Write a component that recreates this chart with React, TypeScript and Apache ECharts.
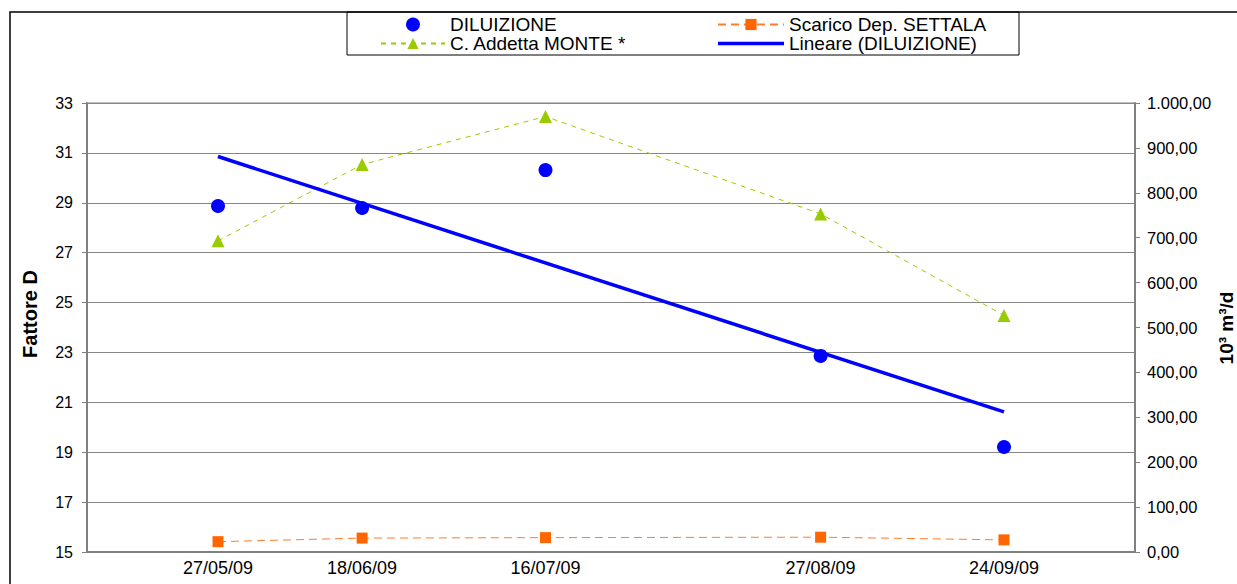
import React, { useEffect, useRef } from "react";
import * as echarts from "echarts";

// Sampling dates (dd/mm/yy) and measured values
const DATES = ["27/05/09", "18/06/09", "16/07/09", "27/08/09", "24/09/09"];
const DILUIZIONE = [28.87, 28.79, 30.31, 22.86, 19.21];
const SCARICO_SETTALA = [23, 31, 32, 33, 27];
const ADDETTA_MONTE = [693, 863, 970, 753, 527];

// Axis extents and tick labels
const X_RANGE = ["07/05/09", "14/10/09"];
const LEFT_TICKS = [15, 17, 19, 21, 23, 25, 27, 29, 31, 33];
const RIGHT_RANGE = [0, 1000];
const RIGHT_STEP = 100;

const FONT = "'Liberation Sans', Arial, sans-serif";

const toDay = (s: string) => {
  const [d, m, y] = s.split("/").map(Number);
  return Date.UTC(2000 + y, m - 1, d) / 86400000;
};

const fromDay = (n: number) => {
  const dt = new Date(Math.round(n) * 86400000);
  const p = (v: number) => String(v).padStart(2, "0");
  return `${p(dt.getUTCDate())}/${p(dt.getUTCMonth() + 1)}/${p(dt.getUTCFullYear() % 100)}`;
};

// Italian number format: 1.000,00
const itNum = (v: number) => {
  const [i, f] = v.toFixed(2).split(".");
  return i.replace(/\B(?=(\d{3})+(?!\d))/g, ".") + "," + f;
};

// Least-squares linear trend of DILUIZIONE over time
const linearTrend = (xs: number[], ys: number[]) => {
  const n = xs.length;
  const mx = xs.reduce((a, b) => a + b, 0) / n;
  const my = ys.reduce((a, b) => a + b, 0) / n;
  let sxy = 0;
  let sxx = 0;
  xs.forEach((x, i) => {
    sxy += (x - mx) * (ys[i] - my);
    sxx += (x - mx) * (x - mx);
  });
  const slope = sxy / sxx;
  return (x: number) => my + slope * (x - mx);
};

export default function App() {
  const ref = useRef<HTMLDivElement>(null);

  useEffect(() => {
    if (!ref.current) return;
    const chart = echarts.init(ref.current, undefined, { renderer: "svg" });

    const days = DATES.map(toDay);
    const trend = linearTrend(days, DILUIZIONE);
    const first = days[0];
    const last = days[days.length - 1];

    const pairs = (vals: number[]) => days.map((d, i) => [d, vals[i]]);

    const axisGray = "#808080";

    chart.setOption({
      animation: false,
      backgroundColor: "#ffffff",
      textStyle: { fontFamily: FONT },
      grid: {
        left: 87,
        right: 102,
        top: 103,
        bottom: 32,
        show: true,
        borderColor: axisGray,
        borderWidth: 1,
      },
      legend: [
        {
          orient: "vertical",
          left: 380,
          top: 15,
          padding: 0,
          itemGap: 0,
          itemWidth: 64,
          itemHeight: 14,
          textStyle: { fontFamily: FONT, fontSize: 19, lineHeight: 19, color: "#000" },
          data: ["DILUIZIONE", "C. Addetta MONTE *"],
        },
        {
          orient: "vertical",
          left: 717,
          top: 15,
          padding: 0,
          itemGap: 0,
          itemWidth: 66,
          itemHeight: 14,
          textStyle: { fontFamily: FONT, fontSize: 19, lineHeight: 19, color: "#000" },
          data: [
            "Scarico Dep. SETTALA",
            { name: "Lineare (DILUIZIONE)", icon: "path://M0,0L66,0L66,3.5L0,3.5Z" },
          ],
        },
      ],
      xAxis: {
        type: "value",
        min: toDay(X_RANGE[0]),
        max: toDay(X_RANGE[1]),
        axisLine: { onZero: false, lineStyle: { color: axisGray, width: 2 } },
        axisTick: { show: false },
        splitLine: { show: false },
        axisLabel: {
          customValues: days,
          formatter: (v: number) => fromDay(v),
          fontFamily: FONT,
          fontSize: 18,
          color: "#000",
          margin: 7,
        },
      },
      yAxis: [
        {
          type: "value",
          position: "left",
          min: LEFT_TICKS[0],
          max: LEFT_TICKS[LEFT_TICKS.length - 1],
          axisLine: { show: true, lineStyle: { color: axisGray, width: 2 } },
          axisTick: {
            show: true,
            length: 5,
            customValues: LEFT_TICKS,
            lineStyle: { color: axisGray },
          },
          splitLine: { show: true, lineStyle: { color: "#868686", width: 1 } },
          axisLabel: {
            customValues: LEFT_TICKS,
            fontFamily: FONT,
            fontSize: 16,
            color: "#000",
            margin: 14,
          },
        },
        {
          type: "value",
          position: "right",
          min: RIGHT_RANGE[0],
          max: RIGHT_RANGE[1],
          interval: RIGHT_STEP,
          axisLine: { show: true, lineStyle: { color: axisGray, width: 2 } },
          axisTick: { show: true, length: 5, lineStyle: { color: axisGray } },
          splitLine: { show: false },
          axisLabel: {
            formatter: (v: number) => itNum(v),
            fontFamily: FONT,
            fontSize: 16.5,
            color: "#000",
            margin: 12,
          },
        },
      ],
      graphic: [
        {
          type: "rect",
          silent: true,
          shape: { x: 10, y: 12, width: 1400, height: 800 },
          style: { fill: "none", stroke: "#000", lineWidth: 1.5 },
        },
        {
          type: "rect",
          silent: true,
          shape: { x: 347, y: 12, width: 672, height: 43 },
          style: { fill: "none", stroke: "#000", lineWidth: 1 },
        },
        {
          type: "text",
          x: 30,
          y: 314,
          rotation: Math.PI / 2,
          style: {
            text: "Fattore D",
            fontFamily: FONT,
            fontSize: 20,
            fontWeight: "bold",
            fill: "#000",
            align: "center",
            verticalAlign: "middle",
          },
        },
        {
          type: "text",
          x: 1226,
          y: 328,
          rotation: Math.PI / 2,
          style: {
            text: "10³ m³/d",
            fontFamily: FONT,
            fontSize: 19,
            fontWeight: "bold",
            fill: "#000",
            align: "center",
            verticalAlign: "middle",
          },
        },
      ],
      series: [
        {
          name: "DILUIZIONE",
          type: "scatter",
          yAxisIndex: 0,
          symbol: "circle",
          symbolSize: 14,
          itemStyle: { color: "#0000FF", opacity: 1 },
          data: pairs(DILUIZIONE),
          z: 3,
        },
        {
          name: "Scarico Dep. SETTALA",
          type: "line",
          yAxisIndex: 1,
          symbol: "rect",
          symbolSize: 11,
          itemStyle: { color: "#FF6600" },
          lineStyle: { color: "#FF6600", width: 1, type: [8, 5], opacity: 0.85 },
          data: pairs(SCARICO_SETTALA),
          z: 2,
        },
        {
          name: "C. Addetta MONTE *",
          type: "line",
          yAxisIndex: 1,
          symbol: "triangle",
          symbolSize: 13,
          itemStyle: { color: "#99CC00" },
          lineStyle: { color: "#99CC00", width: 1, type: [5, 5] },
          data: pairs(ADDETTA_MONTE),
          z: 2,
        },
        {
          name: "Lineare (DILUIZIONE)",
          type: "line",
          yAxisIndex: 0,
          symbol: "none",
          itemStyle: { color: "#0000FF" },
          lineStyle: { color: "#0000FF", width: 3.5 },
          data: [
            [first, trend(first)],
            [last, trend(last)],
          ],
          z: 4,
        },
      ],
    });

    return () => chart.dispose();
  }, []);

  return (
    <div
      ref={ref}
      style={{ position: "absolute", left: 0, top: 0, width: 1237, height: 584 }}
    />
  );
}
